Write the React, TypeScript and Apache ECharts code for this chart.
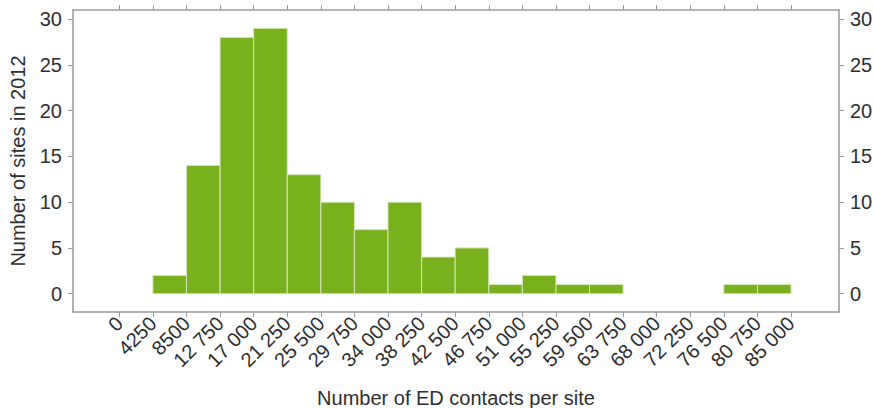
import React, { useEffect, useRef } from "react";
import * as echarts from "echarts";

const binEdges = [0, 4250, 8500, 12750, 17000, 21250, 25500, 29750, 34000, 38250, 42500, 46750, 51000, 55250, 59500, 63750, 68000, 72250, 76500, 80750, 85000];
const counts = [0, 2, 14, 28, 29, 13, 10, 7, 10, 4, 5, 1, 2, 1, 1, 0, 0, 0, 1, 1];
const yTicks = [0, 5, 10, 15, 20, 25, 30];
const xTitle = "Number of ED contacts per site";
const yTitle = "Number of sites in 2012";

const fmtX = (v: number) => {
  if (v < 10000) return String(v);
  const s = String(v);
  return s.slice(0, s.length - 3) + " " + s.slice(s.length - 3);
};

const FONT = "'Liberation Sans', Arial, Helvetica, sans-serif";
const GRAY = "#9a9a9a";
const TXT = "#2e2e2e";
const FS = 20;

export default function App() {
  const ref = useRef<HTMLDivElement>(null);
  useEffect(() => {
    document.body.style.margin = "0";
    const chart = echarts.init(ref.current!, null, { renderer: "svg" });
    const data = counts.map((c, i) => [binEdges[i], binEdges[i + 1], c]);
    const axisLine = { show: true, onZero: false, lineStyle: { color: GRAY, width: 1.5 } };
    const axisTick = { show: true, length: 5, lineStyle: { color: GRAY, width: 1 } };
    chart.setOption({
      animation: false,
      grid: { left: 73, right: 34, top: 10, bottom: 96, containLabel: false, outerBoundsMode: "none" },
      xAxis: [
        {
          type: "value",
          position: "bottom",
          min: -5860,
          max: 91070,
          splitLine: { show: false },
          axisLine,
          axisTick: { ...axisTick, customValues: binEdges },
          axisLabel: {
            customValues: binEdges,
            formatter: (v: number) => fmtX(v),
            rotate: 45,
            margin: 8,
            color: TXT,
            fontSize: FS,
            fontFamily: FONT,
          },
          name: xTitle,
          nameLocation: "middle",
          nameGap: 76,
          nameTextStyle: { color: TXT, fontSize: FS, fontFamily: FONT },
        },
        {
          type: "value",
          position: "top",
          min: -5860,
          max: 91070,
          splitLine: { show: false },
          axisLine,
          axisTick: { ...axisTick, customValues: binEdges },
          axisLabel: { show: false },
        },
      ],
      yAxis: [
        {
          type: "value",
          position: "left",
          min: -2,
          max: 31,
          splitLine: { show: false },
          axisLine,
          axisTick: { ...axisTick, customValues: yTicks },
          axisLabel: { customValues: yTicks, margin: 11, color: TXT, fontSize: FS, fontFamily: FONT },
          name: yTitle,
          nameLocation: "middle",
          nameGap: 45,
          nameTextStyle: { color: TXT, fontSize: FS, fontFamily: FONT },
        },
        {
          type: "value",
          position: "right",
          min: -2,
          max: 31,
          splitLine: { show: false },
          axisLine,
          axisTick: { ...axisTick, customValues: yTicks },
          axisLabel: { customValues: yTicks, margin: 11, color: TXT, fontSize: FS, fontFamily: FONT },
        },
      ],
      series: [
        {
          type: "custom",
          xAxisIndex: 0,
          yAxisIndex: 0,
          data,
          encode: { x: [0, 1], y: 2 },
          renderItem: (params: any, api: any) => {
            const v = api.value(2);
            if (!v) return null;
            const p0 = api.coord([api.value(0), 0]);
            const p1 = api.coord([api.value(1), v]);
            return {
              type: "rect",
              shape: { x: p0[0], y: p1[1], width: p1[0] - p0[0], height: p0[1] - p1[1] },
              style: { fill: "#78b01e", stroke: "#d3e6b4", lineWidth: 1 },
            };
          },
        },
      ],
    });
    return () => chart.dispose();
  }, []);
  return <div ref={ref} style={{ width: 873, height: 408 }} />;
}
